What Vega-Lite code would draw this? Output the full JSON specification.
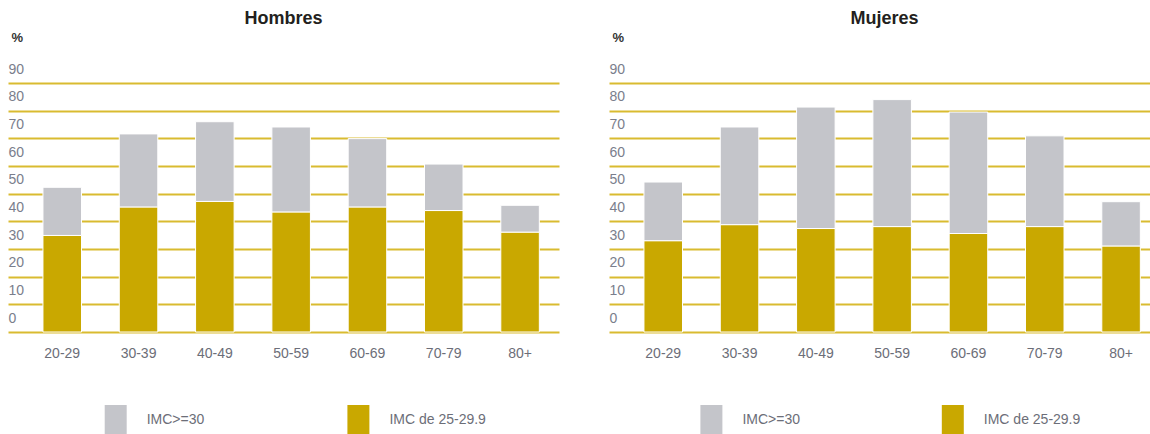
{
  "$schema": "https://vega.github.io/schema/vega-lite/v6.json",
  "background": "white",
  "padding": {"left": 8, "top": 10, "right": 0, "bottom": 0},
  "spacing": 50,
  "config": {
    "view": {"stroke": null},
    "font": "Liberation Sans Narrow, Liberation Sans, sans-serif"
  },
  "data": {
    "values": [
      {"sexo": "Hombres", "edad": "20-29", "grupo": "IMC de 25-29.9", "valor": 34.9},
      {"sexo": "Hombres", "edad": "20-29", "grupo": "IMC>=30", "valor": 17.4},
      {"sexo": "Hombres", "edad": "30-39", "grupo": "IMC de 25-29.9", "valor": 45.2},
      {"sexo": "Hombres", "edad": "30-39", "grupo": "IMC>=30", "valor": 26.4},
      {"sexo": "Hombres", "edad": "40-49", "grupo": "IMC de 25-29.9", "valor": 47.2},
      {"sexo": "Hombres", "edad": "40-49", "grupo": "IMC>=30", "valor": 28.8},
      {"sexo": "Hombres", "edad": "50-59", "grupo": "IMC de 25-29.9", "valor": 43.4},
      {"sexo": "Hombres", "edad": "50-59", "grupo": "IMC>=30", "valor": 30.7},
      {"sexo": "Hombres", "edad": "60-69", "grupo": "IMC de 25-29.9", "valor": 45.2},
      {"sexo": "Hombres", "edad": "60-69", "grupo": "IMC>=30", "valor": 24.7},
      {"sexo": "Hombres", "edad": "70-79", "grupo": "IMC de 25-29.9", "valor": 43.9},
      {"sexo": "Hombres", "edad": "70-79", "grupo": "IMC>=30", "valor": 16.8},
      {"sexo": "Hombres", "edad": "80+", "grupo": "IMC de 25-29.9", "valor": 36.1},
      {"sexo": "Hombres", "edad": "80+", "grupo": "IMC>=30", "valor": 9.7},
      {"sexo": "Mujeres", "edad": "20-29", "grupo": "IMC de 25-29.9", "valor": 33.0},
      {"sexo": "Mujeres", "edad": "20-29", "grupo": "IMC>=30", "valor": 21.2},
      {"sexo": "Mujeres", "edad": "30-39", "grupo": "IMC de 25-29.9", "valor": 38.8},
      {"sexo": "Mujeres", "edad": "30-39", "grupo": "IMC>=30", "valor": 35.3},
      {"sexo": "Mujeres", "edad": "40-49", "grupo": "IMC de 25-29.9", "valor": 37.4},
      {"sexo": "Mujeres", "edad": "40-49", "grupo": "IMC>=30", "valor": 43.9},
      {"sexo": "Mujeres", "edad": "50-59", "grupo": "IMC de 25-29.9", "valor": 38.1},
      {"sexo": "Mujeres", "edad": "50-59", "grupo": "IMC>=30", "valor": 45.9},
      {"sexo": "Mujeres", "edad": "60-69", "grupo": "IMC de 25-29.9", "valor": 35.6},
      {"sexo": "Mujeres", "edad": "60-69", "grupo": "IMC>=30", "valor": 43.9},
      {"sexo": "Mujeres", "edad": "70-79", "grupo": "IMC de 25-29.9", "valor": 38.1},
      {"sexo": "Mujeres", "edad": "70-79", "grupo": "IMC>=30", "valor": 32.8},
      {"sexo": "Mujeres", "edad": "80+", "grupo": "IMC de 25-29.9", "valor": 31.1},
      {"sexo": "Mujeres", "edad": "80+", "grupo": "IMC>=30", "valor": 16.0}
    ]
  },
  "resolve": {"scale": {"color": "independent"}, "legend": {"color": "independent"}},
  "hconcat": [
    {
      "title": {"text": "Hombres", "fontSize": 18, "font": "Liberation Sans Narrow, Liberation Sans, sans-serif", "fontWeight": "bold", "color": "#231f20", "anchor": "middle", "frame": "group", "offset": 3},
      "width": 551,
      "height": 249,
      "transform": [{"filter": "datum.sexo === 'Hombres'"}],
      "mark": {"type": "bar", "stroke": "white", "strokeWidth": 1},
      "encoding": {
        "x": {
          "field": "edad", "type": "nominal", "sort": null,
          "scale": {"paddingInner": 0.495, "paddingOuter": 0.358, "align": 0.64},
          "axis": {"title": null, "labelAngle": 0, "domain": false, "ticks": false, "grid": false, "labelPadding": 14, "labelFontSize": 14, "labelColor": "#6c6e78"}
        },
        "y": {
          "field": "valor", "type": "quantitative", "stack": "zero",
          "scale": {"domain": [0, 90], "nice": false, "zero": true},
          "axis": {
            "values": [0, 10, 20, 30, 40, 50, 60, 70, 80, 90],
            "grid": true, "gridColor": "#d9bb30", "gridWidth": 2, "gridOpacity": 1,
            "domain": false, "ticks": false, "tickSize": 0,
            "labelAlign": "left", "labelPadding": 0, "labelBaseline": "middle", "labelOffset": -14,
            "labelFontSize": 14, "labelColor": "#7a7e8c",
            "title": "%", "titleAngle": 0, "titleX": 3, "titleY": -46, "titleAlign": "left", "titleBaseline": "middle",
            "titleFontSize": 13, "titleFontWeight": "bold", "titleColor": "#333333"
          }
        },
        "color": {
          "field": "grupo", "type": "nominal",
          "scale": {"domain": ["IMC>=30", "IMC de 25-29.9"], "range": ["#c4c5ca", "#c9a800"]},
          "legend": {
            "orient": "none", "legendX": 92.7, "legendY": 322, "direction": "horizontal", "title": null,
            "symbolType": "M-0.733,-1H0.733V1H-0.733Z", "symbolSize": 900, "symbolStrokeWidth": 0,
            "labelFontSize": 14, "labelColor": "#6c6e78", "labelOffset": 16, "columnPadding": 138.7
          }
        },
        "order": {"field": "grupo", "sort": "ascending"}
      }
    },
    {
      "title": {"text": "Mujeres", "fontSize": 18, "font": "Liberation Sans Narrow, Liberation Sans, sans-serif", "fontWeight": "bold", "color": "#231f20", "anchor": "middle", "frame": "group", "offset": 3},
      "width": 551,
      "height": 249,
      "transform": [{"filter": "datum.sexo === 'Mujeres'"}],
      "mark": {"type": "bar", "stroke": "white", "strokeWidth": 1},
      "encoding": {
        "x": {
          "field": "edad", "type": "nominal", "sort": null,
          "scale": {"paddingInner": 0.495, "paddingOuter": 0.358, "align": 0.64},
          "axis": {"title": null, "labelAngle": 0, "domain": false, "ticks": false, "grid": false, "labelPadding": 14, "labelFontSize": 14, "labelColor": "#6c6e78"}
        },
        "y": {
          "field": "valor", "type": "quantitative", "stack": "zero",
          "scale": {"domain": [0, 90], "nice": false, "zero": true},
          "axis": {
            "values": [0, 10, 20, 30, 40, 50, 60, 70, 80, 90],
            "grid": true, "gridColor": "#d9bb30", "gridWidth": 2, "gridOpacity": 1,
            "domain": false, "ticks": false, "tickSize": 0,
            "labelAlign": "left", "labelPadding": 0, "labelBaseline": "middle", "labelOffset": -14,
            "labelFontSize": 14, "labelColor": "#7a7e8c",
            "title": "%", "titleAngle": 0, "titleX": 3, "titleY": -46, "titleAlign": "left", "titleBaseline": "middle",
            "titleFontSize": 13, "titleFontWeight": "bold", "titleColor": "#333333"
          }
        },
        "color": {
          "field": "grupo", "type": "nominal",
          "scale": {"domain": ["IMC>=30", "IMC de 25-29.9"], "range": ["#c4c5ca", "#c9a800"]},
          "legend": {
            "orient": "none", "legendX": 87.4, "legendY": 322, "direction": "horizontal", "title": null,
            "symbolType": "M-0.733,-1H0.733V1H-0.733Z", "symbolSize": 900, "symbolStrokeWidth": 0,
            "labelFontSize": 14, "labelColor": "#6c6e78", "labelOffset": 16, "columnPadding": 137.4
          }
        },
        "order": {"field": "grupo", "sort": "ascending"}
      }
    }
  ]
}
